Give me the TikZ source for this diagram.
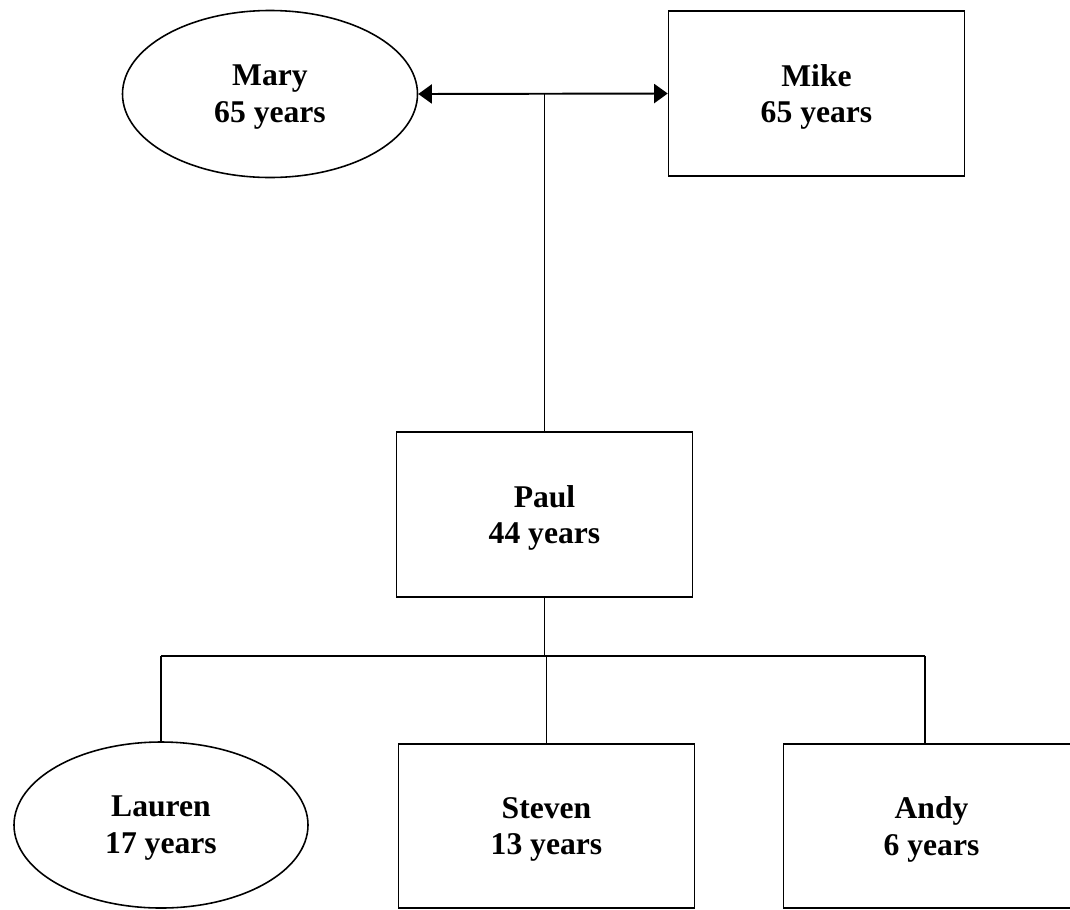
\documentclass[tikz,border=0pt]{standalone}
\usepackage{fontspec}
\setmainfont{Liberation Serif}
\usetikzlibrary{calc,positioning,shapes.geometric,arrows.meta}

\begin{document}
\begin{tikzpicture} [person/.style={
	draw,
	line width=0.9pt,
	align=center,
	font=\fontsize{18}{21}\selectfont\bfseries,
	text depth=0pt,
	inner sep=0pt
	},
	female/.style={
	person,ellipse,
	minimum width=5.9cm,
	minimum height=3.34cm
	},
	male/.style={
	person,rectangle,
	minimum width=5.92cm,
	minimum height=3.3cm
	},
	link/.style={line width=1.1pt}
]
	\useasboundingbox (0,0) rectangle (21.4,-18.18);
	% grandparents
	\node[female] (mary) at (5.4,-1.88) {Mary\\65 years};
	\node[male] (mike) at (16.33,-1.87) {Mike\\65 years};
	\node[male] (paul) at (10.89,-10.29) {Paul\\44 years};
	% children
	\node[female,minimum width=5.88cm,minimum height=3.32cm] (lauren) at (3.22,-16.5) {Lauren\\17 years};
	\node[male,minimum height=3.28cm] (steven) at (10.93,-16.52) {Steven\\13 years};
	\node[male,minimum height=3.28cm] (andy) at (18.63,-16.52) {Andy\\6 years};

	\draw[link,{Triangle[length=0.27cm,width=0.38cm]}-{Triangle[length=0.27cm,width=0.38cm]}] (mary.east) -- (mike.west);
	\draw[link] (paul.north) -- (paul.north |- mary.east);
	\coordinate (bar) at ($(paul.south)+(0,-1.16)$);
	\coordinate (andytop) at ($(andy.north)+(-0.13,0)$);
	\draw[link] (paul.south) -- (bar);
	\draw[link] (lauren.north |- bar) -- (andytop |- bar);
	\foreach \kid in {lauren.north,steven.north,andytop}
		\draw[link] (\kid |- bar) -- (\kid);
\end{tikzpicture}
\end{document}
